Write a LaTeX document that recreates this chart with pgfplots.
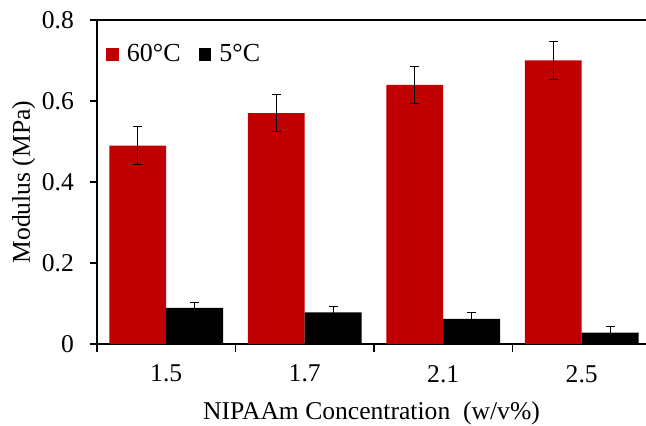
\documentclass[border=0pt]{standalone}
\usepackage{fontspec}
\setmainfont{Liberation Serif}
\usepackage{pgfplots}
\pgfplotsset{compat=1.18}
\usetikzlibrary{calc}
\definecolor{barred}{HTML}{C00000}

\begin{document}
\begin{tikzpicture}
\begin{axis}[
  name=ax,
  scale only axis,
  width=274.5pt,
  height=162pt,
  ybar=0pt,
  bar width=0.41,
  xmin=-0.5, xmax=3.464,
  ymin=0, ymax=0.8,
  axis lines=left,
  axis line style={-, line width=0.6pt},
  xtick={0,1,2,3},
  xticklabels={1.5,1.7,2.1,2.5},
  minor xtick={-0.5,0.5,1.5,2.5},
  major x tick style={draw=none},
  minor tick length=4pt,
  major tick length=3.5pt,
  tick align=outside,
  tick style={black, line width=0.6pt},
  ytick={0,0.2,0.4,0.6,0.8},
  yticklabels={0,0.2,0.4,0.6,0.8},
  tick label style={font=\fontsize{12.8}{15}\selectfont},
  xticklabel style={yshift=-3.5pt},
  yticklabel style={xshift=-4.5pt},
  xlabel={NIPAAm Concentration\ \ (w/v\%)},
  ylabel={Modulus (MPa)},
  label style={font=\fontsize{12.8}{15}\selectfont},
  xlabel style={yshift=-3pt},
  ylabel style={yshift=-3.5pt},
  legend columns=2,
  legend style={
    at={(0.005,0.95)}, anchor=north west,
    draw=none, fill=none,
    font=\fontsize{13}{15}\selectfont,
    /tikz/every even column/.append style={column sep=7pt},
  },
  legend image code/.code={\fill[#1] (0pt,-3.2pt) rectangle (6.4pt,3.2pt);},
  error bars/y dir=both,
  error bars/y explicit,
  error bars/error bar style={black, line width=0.5pt},
  error bars/error mark options={rotate=90, mark size=2.25pt, line width=0.5pt, black},
]
\addplot[fill=barred, draw=none] coordinates {
  (0,0.49) +- (0,0.046)
  (1,0.57) +- (0,0.046)
  (2,0.64) +- (0,0.046)
  (3,0.70) +- (0,0.046)
};
\addlegendentry{\hspace{2pt}60°C}
\addplot[fill=black, draw=none] coordinates {
  (0,0.089) +- (0,0.014)
  (1,0.078) +- (0,0.015)
  (2,0.062) +- (0,0.015)
  (3,0.028) +- (0,0.014)
};
\addlegendentry{\hspace{2pt}5°C}
\draw[line width=0.6pt] (rel axis cs:0,1) -- (rel axis cs:1,1);
\end{axis}
\pgfresetboundingbox
\path ($(ax.south west)+(-48.5pt,-40.85pt)$) rectangle ($(ax.north east)+(0,10pt)$);
\end{tikzpicture}
\end{document}
